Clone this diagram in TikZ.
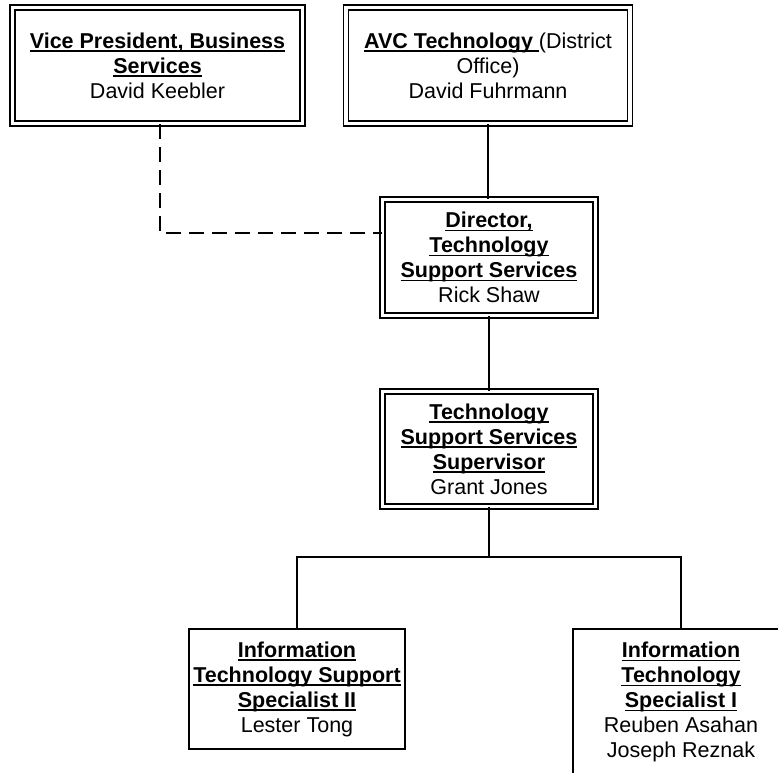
\documentclass[tikz,border=0pt]{standalone}
\usepackage{fontspec}
\setmainfont{Liberation Sans}
\newcommand\ulx[1]{\setbox0\hbox{#1}\rlap{\rule[-3.8pt]{\wd0}{1.5pt}}\box0}
\begin{document}
\begin{tikzpicture}[x=1pt,y=-1pt,
  boxtext/.style={align=center, inner sep=0pt, font=\fontsize{21.5}{25}\selectfont},
  dbox/.style={boxtext, draw, double, double distance=3.7pt, line width=1.3pt},
  sbox/.style={boxtext, draw, line width=1.4pt},
  conn/.style={line width=1.4pt},
  dashconn/.style={line width=1.4pt, dash pattern=on 15pt off 8pt}]
\useasboundingbox (0,0) rectangle (778,772);
\clip (0,0) rectangle (778,772);

\node[dbox, minimum width=290pt, minimum height=116pt] (vp) at (157.5,65.5)
  {\ulx{\bfseries Vice President, Business}\\ \ulx{\bfseries Services}\\ David Keebler};
\node[dbox, minimum width=284pt, minimum height=116pt] (avc) at (488,65.5)
  {\ulx{\bfseries AVC Technology }(District\\ Office)\\ David Fuhrmann};
\node[dbox, minimum width=213pt, minimum height=116pt] (dir) at (489,257.5)
  {\ulx{\bfseries Director,}\\ \ulx{\bfseries Technology}\\ \ulx{\bfseries Support Services}\\ Rick Shaw};
\node[dbox, minimum width=213pt, minimum height=115pt] (sup) at (489,449)
  {\ulx{\bfseries Technology}\\ \ulx{\bfseries Support Services}\\ \ulx{\bfseries Supervisor}\\ Grant Jones};
\node[sbox, minimum width=216pt, minimum height=120pt] (itsII) at (297,689)
  {\ulx{\bfseries Information}\\ \ulx{\bfseries Technology Support}\\ \ulx{\bfseries Specialist II}\\ Lester Tong};
\node[sbox, minimum width=216pt, minimum height=146pt] (itsI) at (681,702)
  {\ulx{\bfseries Information}\\ \ulx{\bfseries Technology}\\ \ulx{\bfseries Specialist I}\\ Reuben Asahan\\ Joseph Reznak};

\coordinate (bus) at (489,557);
\draw[conn] (avc.south) -- (avc.south |- dir.north);
\draw[dashconn] ([xshift=2.5pt]vp.south) |- ([yshift=24.5pt]dir.west);
\draw[conn] (dir.south) -- (sup.north);
\draw[conn] (sup.south) -- (bus);
\draw[conn] (itsII.north) |- (bus) -| (itsI.north);
\end{tikzpicture}
\end{document}
